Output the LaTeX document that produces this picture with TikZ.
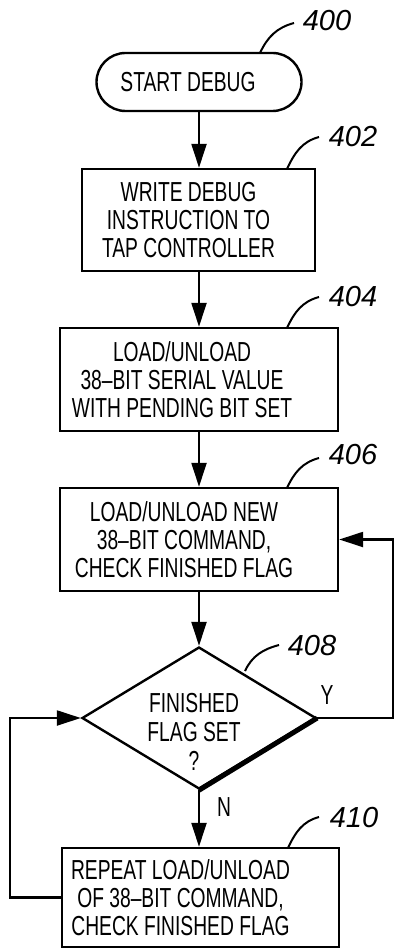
\documentclass[tikz,border=0pt]{standalone}
\usepackage{fontspec}
\setmainfont{Liberation Sans}[FakeStretch=0.7]
\newfontfamily\numfont{Liberation Sans}
\usetikzlibrary{arrows.meta,shapes.misc,shapes.geometric,calc}
\begin{document}
\begin{tikzpicture}[x=1pt,y=1pt,
  txt/.style={font=\fontsize{27.5}{28}\selectfont, align=center, inner sep=0pt},
  num/.style={font=\numfont\itshape\fontsize{29}{30}\selectfont, inner sep=0pt},
  procbox/.style={draw, line width=2.4pt, rectangle, inner sep=0pt},
  term/.style={draw, line width=2.4pt, rounded rectangle, inner sep=0pt},
  decision/.style={draw, line width=2.4pt, diamond, inner sep=0pt, minimum width=234pt, minimum height=142pt},
  arr/.style={line width=2.2pt, -{Triangle[length=24pt,width=15pt]}},
  ld/.style={line width=2pt}
]
\useasboundingbox (0,0) rectangle (396,-952);

% process nodes
\node[term, minimum width=205pt, minimum height=58pt,
  label={[txt,xshift=-11pt]center:START DEBUG}] (s400) at (199,-82) {};
\node[procbox, minimum width=233pt, minimum height=102pt,
  label={[txt,xshift=-10pt]center:{WRITE DEBUG\\INSTRUCTION TO\\TAP CONTROLLER}}] (b402) at (198.5,-220) {};
\node[procbox, minimum width=278pt, minimum height=103pt,
  label={[txt,xshift=-17pt]center:{LOAD/UNLOAD\\38–BIT SERIAL VALUE\\WITH PENDING BIT SET}}] (b404) at (199,-379.5) {};
\node[procbox, minimum width=278pt, minimum height=103pt,
  label={[txt,xshift=-15pt]center:{LOAD/UNLOAD NEW\\38–BIT COMMAND,\\CHECK FINISHED FLAG}}] (b406) at (199,-539.5) {};
\node[decision] (d408) at (199,-718) {};
\node[txt, font=\fontsize{27.5}{29}\selectfont] (t408) at (194,-732) {FINISHED\\FLAG SET\\?};
\node[procbox, minimum width=277pt, minimum height=99pt,
  label={[txt,xshift=-20pt]center:{REPEAT LOAD/UNLOAD\\OF 38–BIT COMMAND,\\CHECK FINISHED FLAG}}] (b410) at (200.5,-897.5) {};

% thick lower-right edge of the decision
\draw[line width=5pt] (d408.east) -- (d408.south);

% main flow arrows
\draw[arr] (s400.south) -- (s400.south |- b402.north);
\draw[arr] (b402.south -| s400.south) -- (s400.south |- b404.north);
\draw[arr] (b404.south -| s400.south) -- (s400.south |- b406.north);
\draw[arr] (b406.south -| s400.south) -- (d408.north);
\draw[arr] (d408.south) -- (d408.south |- b410.north);

% loops
\coordinate (yc) at (393,-620);
\coordinate (nc) at (10,-800);
\draw[arr] (d408.east) -| (yc) |- (b406.east);
\draw[arr] (b410.west) -| (nc) |- (d408.west);

\node[txt] (ly) at (327,-695) {Y};
\node[txt] (ln) at (224,-807) {N};

% reference numerals and leaders
\node[num] (n400) at (327,-21) {400};
\node[num] (n402) at (353,-137) {402};
\node[num] (n404) at (353,-297) {404};
\node[num] (n406) at (353,-455) {406};
\node[num] (n408) at (312,-646) {408};
\node[num] (n410) at (354,-818) {410};

\coordinate (a400) at (260,-53);  \coordinate (e400) at (294,-23);
\coordinate (a402) at (287,-169); \coordinate (e402) at (319,-137);
\coordinate (a404) at (287,-328); \coordinate (e404) at (319,-297);
\coordinate (a406) at (287,-488); \coordinate (e406) at (319,-458);
\coordinate (a408) at (245,-671); \coordinate (e408) at (279,-645);
\coordinate (a410) at (288,-848); \coordinate (e410) at (319,-817);
\foreach \k in {400,402,404,406,408,410}
  \draw[ld] (a\k) to[out=65,in=195] (e\k);
\end{tikzpicture}
\end{document}
